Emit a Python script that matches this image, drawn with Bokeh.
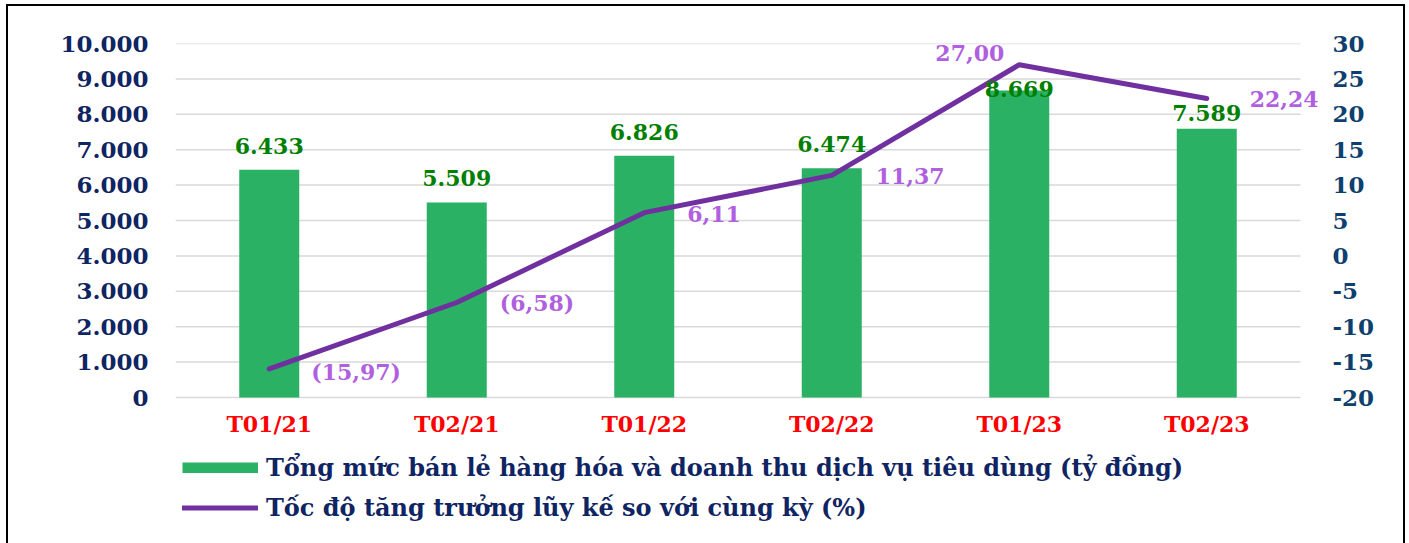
from bokeh.plotting import figure
from bokeh.models import (ColumnDataSource, Range1d, LinearAxis, FixedTicker,
                          Legend, LegendItem, LabelSet)
from bokeh.core.properties import value, field
from bokeh.embed import file_html
from bokeh.resources import INLINE

# ---------------- data ----------------
categories = ["T01/21", "T02/21", "T01/22", "T02/22", "T01/23", "T02/23"]
retail = [6433, 5509, 6826, 6474, 8669, 7589]
growth = [-15.97, -6.58, 6.11, 11.37, 27.00, 22.24]

left_ticks = [0, 1000, 2000, 3000, 4000, 5000, 6000, 7000, 8000, 9000, 10000]
left_tick_labels = ["0", "1.000", "2.000", "3.000", "4.000", "5.000",
                    "6.000", "7.000", "8.000", "9.000", "10.000"]
right_ticks = [-20, -15, -10, -5, 0, 5, 10, 15, 20, 25, 30]
right_tick_labels = ["-20", "-15", "-10", "-5", "0", "5", "10", "15", "20", "25", "30"]

legend_bar = "Tổng mức bán lẻ hàng hóa và doanh thu dịch vụ tiêu dùng (tỷ đồng)"
legend_line = "Tốc độ tăng trưởng lũy kế so với cùng kỳ (%)"


def fmt_retail(v):
    return f"{v:,}".replace(",", ".")


def fmt_growth(v):
    s = f"{abs(v):.2f}".replace(".", ",")
    return f"({s})" if v < 0 else s


# ---------------- styles / layout ----------------
FONT = "DejaVu Serif"
GREEN = "#2BB163"
PURPLE = "#7030A0"
PURPLE_LABEL = "#AF5FE0"
NAVY = "#0F2462"
NAVY_R = "#0E3F6E"

n_cat = len(categories)
xpos = [i + 0.5 for i in range(n_cat)]          # category slot centres

L_MIN, L_MAX = left_ticks[0], left_ticks[-1]
R_MIN, R_MAX = right_ticks[0], right_ticks[-1]

VALUE_H = 354     # px of frame used by the value scales
EXTRA_H = 146     # px of frame below zero (category labels + legend)
FRAME_H = VALUE_H + EXTRA_H
FRAME_W = 1155
SLOT_W = 1125 / n_cat

l_start = L_MIN - EXTRA_H * (L_MAX - L_MIN) / VALUE_H
r_start = R_MIN - EXTRA_H * (R_MAX - R_MIN) / VALUE_H

# screen offsets (px, down positive) of the bar value labels' centres from the bar tops
bar_label_dy = [-24, -24, -24, -24, -2, -16]
# screen offsets of the growth labels from their points (x right, y up)
line_label_dx = [42, 43, 43, 44, -15, 43]
line_label_dy = [-3, -1, -1, -1, 12, -1]
line_label_align = ["left", "left", "left", "left", "right", "left"]

src = ColumnDataSource(dict(
    x=xpos,
    cat=categories,
    base=[L_MIN] * n_cat,
    retail=retail,
    growth=growth,
    retail_lbl=[fmt_retail(v) for v in retail],
    growth_lbl=[fmt_growth(v) for v in growth],
    bdy=bar_label_dy,
    ldx=line_label_dx,
    ldy=line_label_dy,
    lalign=line_label_align,
))

p = figure(
    x_range=Range1d(0, FRAME_W / SLOT_W),
    y_range=Range1d(l_start, L_MAX),
    frame_width=FRAME_W, frame_height=FRAME_H,
    min_border_left=167, min_border_right=73,
    min_border_top=37, min_border_bottom=0,
    x_axis_location=None,
    output_backend="svg", toolbar_location=None,
)
p.styles = {"border": "2px solid black", "margin-left": "6px", "margin-top": "4px"}
p.outline_line_color = None
p.background_fill_color = "white"
p.border_fill_color = "white"

p.extra_y_ranges = {"pct": Range1d(r_start, R_MAX)}

# grid lines across the category slots
p.xgrid.visible = False
p.ygrid.visible = False
p.segment(x0=[0] * len(left_ticks), x1=[n_cat] * len(left_ticks),
          y0=left_ticks, y1=left_ticks, line_color="#D9D9D9", line_width=1.5)

# bars
bars = p.vbar(x="x", top="retail", bottom="base", width=0.32, source=src,
              fill_color=GREEN, line_color=None)
# legend swatch for the bars: a thick flat stroke that draws nothing in the plot
bar_swatch = p.line(x=[float("nan")], y=[float("nan")],
                    line_color=GREEN, line_width=11, line_cap="butt")

# line
line = p.line(x="x", y="growth", source=src, y_range_name="pct",
              line_color=PURPLE, line_width=5, line_cap="round", line_join="round")

# bar labels
p.text(x="x", y="retail", text="retail_lbl", source=src,
       text_align="center", text_baseline="middle", y_offset="bdy",
       text_font=value(FONT), text_font_style="bold",
       text_font_size="22px", text_color="#008000")

# category labels under the bars
p.text(x="x", y="base", text="cat", source=src,
       text_align="center", text_baseline="middle", y_offset=26,
       text_font=value(FONT), text_font_style="bold",
       text_font_size="22px", text_color="#FF0000")

# growth labels
growth_labels = LabelSet(
    x="x", y="growth", text="growth_lbl", source=src, y_range_name="pct",
    x_offset=field("ldx"), y_offset=field("ldy"),
    text_align=field("lalign"), text_baseline=value("middle"),
    text_font=value(FONT), text_font_style=value("bold"),
    text_font_size=value("22px"), text_color=value(PURPLE_LABEL),
)
p.add_layout(growth_labels)

# axes
ya = p.yaxis[0]
ya.ticker = FixedTicker(ticks=left_ticks)
ya.major_label_overrides = {t: l for t, l in zip(left_ticks, left_tick_labels)}
ya.axis_line_color = None
ya.major_tick_line_color = None
ya.minor_tick_line_color = None
ya.major_tick_out = 0
ya.major_tick_in = 0
ya.major_label_text_font = FONT
ya.major_label_text_font_style = "bold"
ya.major_label_text_font_size = "23px"
ya.major_label_text_color = NAVY
ya.major_label_standoff = 27

ra = LinearAxis(y_range_name="pct", ticker=FixedTicker(ticks=right_ticks))
ra.major_label_overrides = {t: l for t, l in zip(right_ticks, right_tick_labels)}
ra.axis_line_color = None
ra.major_tick_line_color = None
ra.minor_tick_line_color = None
ra.major_tick_out = 0
ra.major_tick_in = 0
ra.major_label_text_font = FONT
ra.major_label_text_font_style = "bold"
ra.major_label_text_font_size = "23px"
ra.major_label_text_color = NAVY_R
ra.major_label_standoff = 2
p.add_layout(ra, "right")

# legend (inside the lower part of the frame)
legend = Legend(
    items=[LegendItem(label=legend_bar, renderers=[bars, bar_swatch]),
           LegendItem(label=legend_line, renderers=[line])],
    location=(7, 21),
    orientation="vertical",
    margin=0, padding=0, spacing=11,
    glyph_width=76, glyph_height=11,
    label_height=28, label_standoff=8,
    label_text_font=FONT, label_text_font_style="bold",
    label_text_font_size="24px", label_text_color=NAVY,
    border_line_color=None, background_fill_alpha=0,
)
p.add_layout(legend, "center")

open("out.html", "w").write(file_html(p, INLINE))
